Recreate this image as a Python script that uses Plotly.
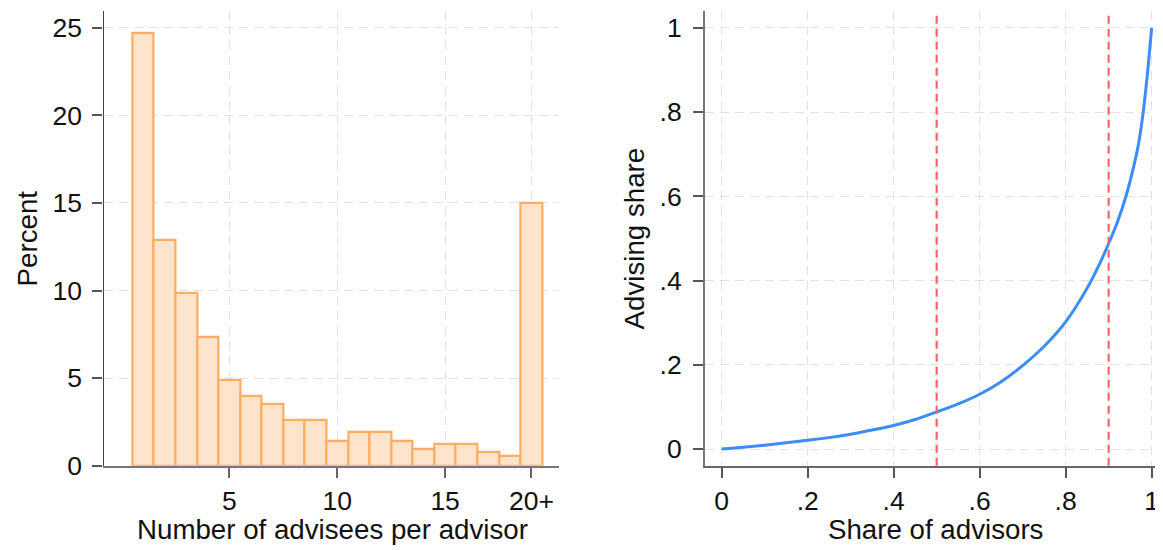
import plotly.graph_objects as go
from plotly.subplots import make_subplots

# histogram of advisees per advisor (last bin collects 20 and more)
advisee_bins = list(range(1, 20))
bin_percent = [24.7, 12.86, 9.84, 7.37, 4.92, 3.96, 3.51, 2.61, 2.61, 1.4,
               1.91, 1.91, 1.4, 0.99, 1.22, 1.22, 0.77, 0.56, 15.0]
bin_tickvals = [5, 10, 15, 19]
bin_ticktext = ["5", "10", "15", "20+"]

# concentration curve: share of advisors vs advising share
advisor_share = [0, 0.05, 0.1, 0.15, 0.2, 0.25, 0.3, 0.35, 0.4, 0.45, 0.5,
                 0.55, 0.6, 0.65, 0.7, 0.75, 0.8, 0.85, 0.88, 0.9, 0.92,
                 0.94, 0.96, 0.97, 0.98, 0.99, 1.0]
advising_share = [0, 0.004, 0.009, 0.015, 0.021, 0.027, 0.035, 0.045, 0.056,
                  0.07, 0.088, 0.107, 0.13, 0.16, 0.198, 0.244, 0.302, 0.382,
                  0.442, 0.488, 0.538, 0.599, 0.678, 0.727, 0.797, 0.889, 1.0]
cutoffs = [0.5, 0.9]

share_ticks = [0, 0.2, 0.4, 0.6, 0.8, 1]
share_text = ["0", ".2", ".4", ".6", ".8", "1"]

W, H = 1163, 550
# the page shows the figure shifted by 8px and squeezed to 534px tall,
# so positions are given in screen pixels and converted here
OFF, HS = 8, 534


def px_x(x):
    return (x - OFF) / W


def px_y(y):
    return 1 - (y - OFF) / HS


font = "Liberation Sans, Arial, sans-serif"
ink = "#111111"
grid = "#e2e2e2"

fig = make_subplots(rows=1, cols=2)

fig.add_trace(go.Bar(x=advisee_bins, y=bin_percent, width=1,
                     marker=dict(color="#fee4cc",
                                 line=dict(color="#fdad60", width=2.2))),
              row=1, col=1)

fig.add_trace(go.Scatter(x=advisor_share, y=advising_share, mode="lines",
                         line=dict(color="#3a8cf6", width=3, shape="spline",
                                   smoothing=0.8)),
              row=1, col=2)

for c in cutoffs:
    fig.add_vline(x=c, line=dict(color="#f8646c", width=2.2, dash="8px,5px"),
                  row=1, col=2)

ydom = [px_y(465), px_y(11)]
axis_common = dict(showline=True, ticks="outside", ticklen=10, tickwidth=2,
                   showgrid=True, gridcolor=grid, gridwidth=1.4,
                   griddash="9px,6px", zeroline=False,
                   tickfont=dict(family=font, size=26.5, color=ink))

fig.update_xaxes(domain=[px_x(103.5), px_x(559)], range=[-0.84, 20.28],
                 tickvals=bin_tickvals, ticktext=bin_ticktext,
                 linecolor="#777777", linewidth=2, tickcolor="#666666",
                 row=1, col=1, **axis_common)
fig.update_yaxes(domain=ydom, range=[0, 25.95], tickvals=[0, 5, 10, 15, 20, 25],
                 linecolor="#444444", linewidth=1.3, tickcolor="#555555",
                 ticklabelstandoff=5, row=1, col=1, **axis_common)
fig.update_xaxes(domain=[px_x(705), 1.0], range=[-0.0388, 1.045],
                 tickvals=share_ticks, ticktext=share_text,
                 linecolor="#666666", linewidth=2, tickcolor="#555555",
                 row=1, col=2, **axis_common)
fig.update_yaxes(domain=ydom, range=[-0.04, 1.04],
                 tickvals=share_ticks, ticktext=share_text,
                 linecolor="#777777", linewidth=2, tickcolor="#555555",
                 ticklabelstandoff=6, row=1, col=2, **axis_common)

# axis titles
titles = [
    ("Number of advisees per advisor", 332, 529, 0),
    ("Percent", 27, 238, -90),
    ("Share of advisors", 935, 529, 0),
    ("Advising share", 634, 238, -90),
]
for text, x, y, ang in titles:
    fig.add_annotation(text=text, x=px_x(x), y=px_y(y), xref="paper",
                       yref="paper", showarrow=False, textangle=ang,
                       xanchor="center", yanchor="middle",
                       font=dict(family=font, size=27.7, color=ink))

fig.update_layout(width=W, height=H, margin=dict(l=0, r=0, t=0, b=0),
                  plot_bgcolor="white", paper_bgcolor="white",
                  showlegend=False, bargap=0)

fig.write_html("out.html")
